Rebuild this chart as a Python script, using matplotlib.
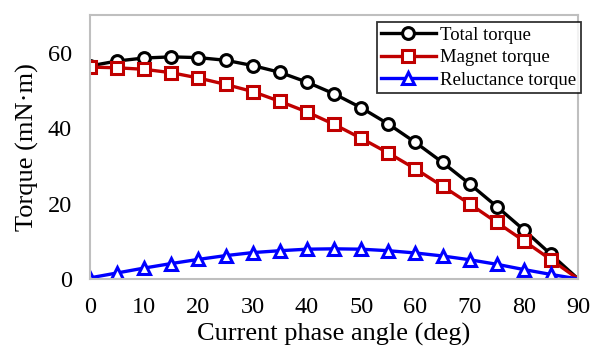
import numpy as np
import matplotlib.pyplot as plt

plt.rcParams['font.family'] = ['Liberation Serif', 'DejaVu Serif']

angle = [0, 5, 10, 15, 20, 25, 30, 35, 40, 45, 50, 55, 60, 65, 70, 75, 80, 85, 90]
total = [56.5, 57.8, 58.6, 58.9, 58.7, 58.0, 56.6, 54.8, 52.2, 49.1, 45.4,
         41.1, 36.2, 30.9, 25.2, 19.2, 13.0, 6.5, 0.0]
magnet = [56.2, 56.0, 55.6, 54.7, 53.3, 51.6, 49.7, 47.1, 44.3, 41.0, 37.3,
          33.4, 29.2, 24.6, 19.9, 15.0, 10.1, 5.1, 0.0]
reluct = [0.3, 1.6, 2.9, 4.1, 5.2, 6.2, 7.0, 7.5, 7.9, 8.0, 7.9, 7.5, 6.9,
          6.1, 5.1, 3.9, 2.5, 1.2, 0.0]

fig = plt.figure(figsize=(5.9, 3.49), dpi=100)
ax = fig.add_axes([0.1525, 0.2006, 0.8275, 0.7564])

style = dict(lw=2.4, ms=8.5, mew=2.2, mfc='white', markevery=slice(0, 18))
ax.plot(angle, total, color='black', marker='o', label='Total torque', **style)
ax.plot(angle, magnet, color='#c00000', marker='s', label='Magnet torque', **style)
ax.plot(angle, reluct, color='#0000ff', marker='^', label='Reluctance torque', **style)

ax.set_xlim(0, 90)
ax.set_ylim(0, 70)
ax.set_xticks(np.arange(0, 91, 10))
ax.set_yticks([0, 20, 40, 60])
ax.tick_params(length=0, labelsize=17.5, pad=13)
for s in ax.spines.values():
    s.set_color('#bfbfbf')
    s.set_linewidth(1.5)
ax.set_xlabel('Current phase angle (deg)', fontsize=19, labelpad=3.5)
ax.set_ylabel('Torque (mN·m)', fontsize=19, labelpad=6)

leg = ax.legend(loc='upper right', bbox_to_anchor=(1.006, 0.973),
                fontsize=13.5, frameon=True, fancybox=False,
                edgecolor='black', borderpad=0.25, labelspacing=0.28,
                handlelength=2.9, handletextpad=0.25, borderaxespad=0)
leg.get_frame().set_linewidth(1.3)

fig.savefig('out.png', dpi=100)
